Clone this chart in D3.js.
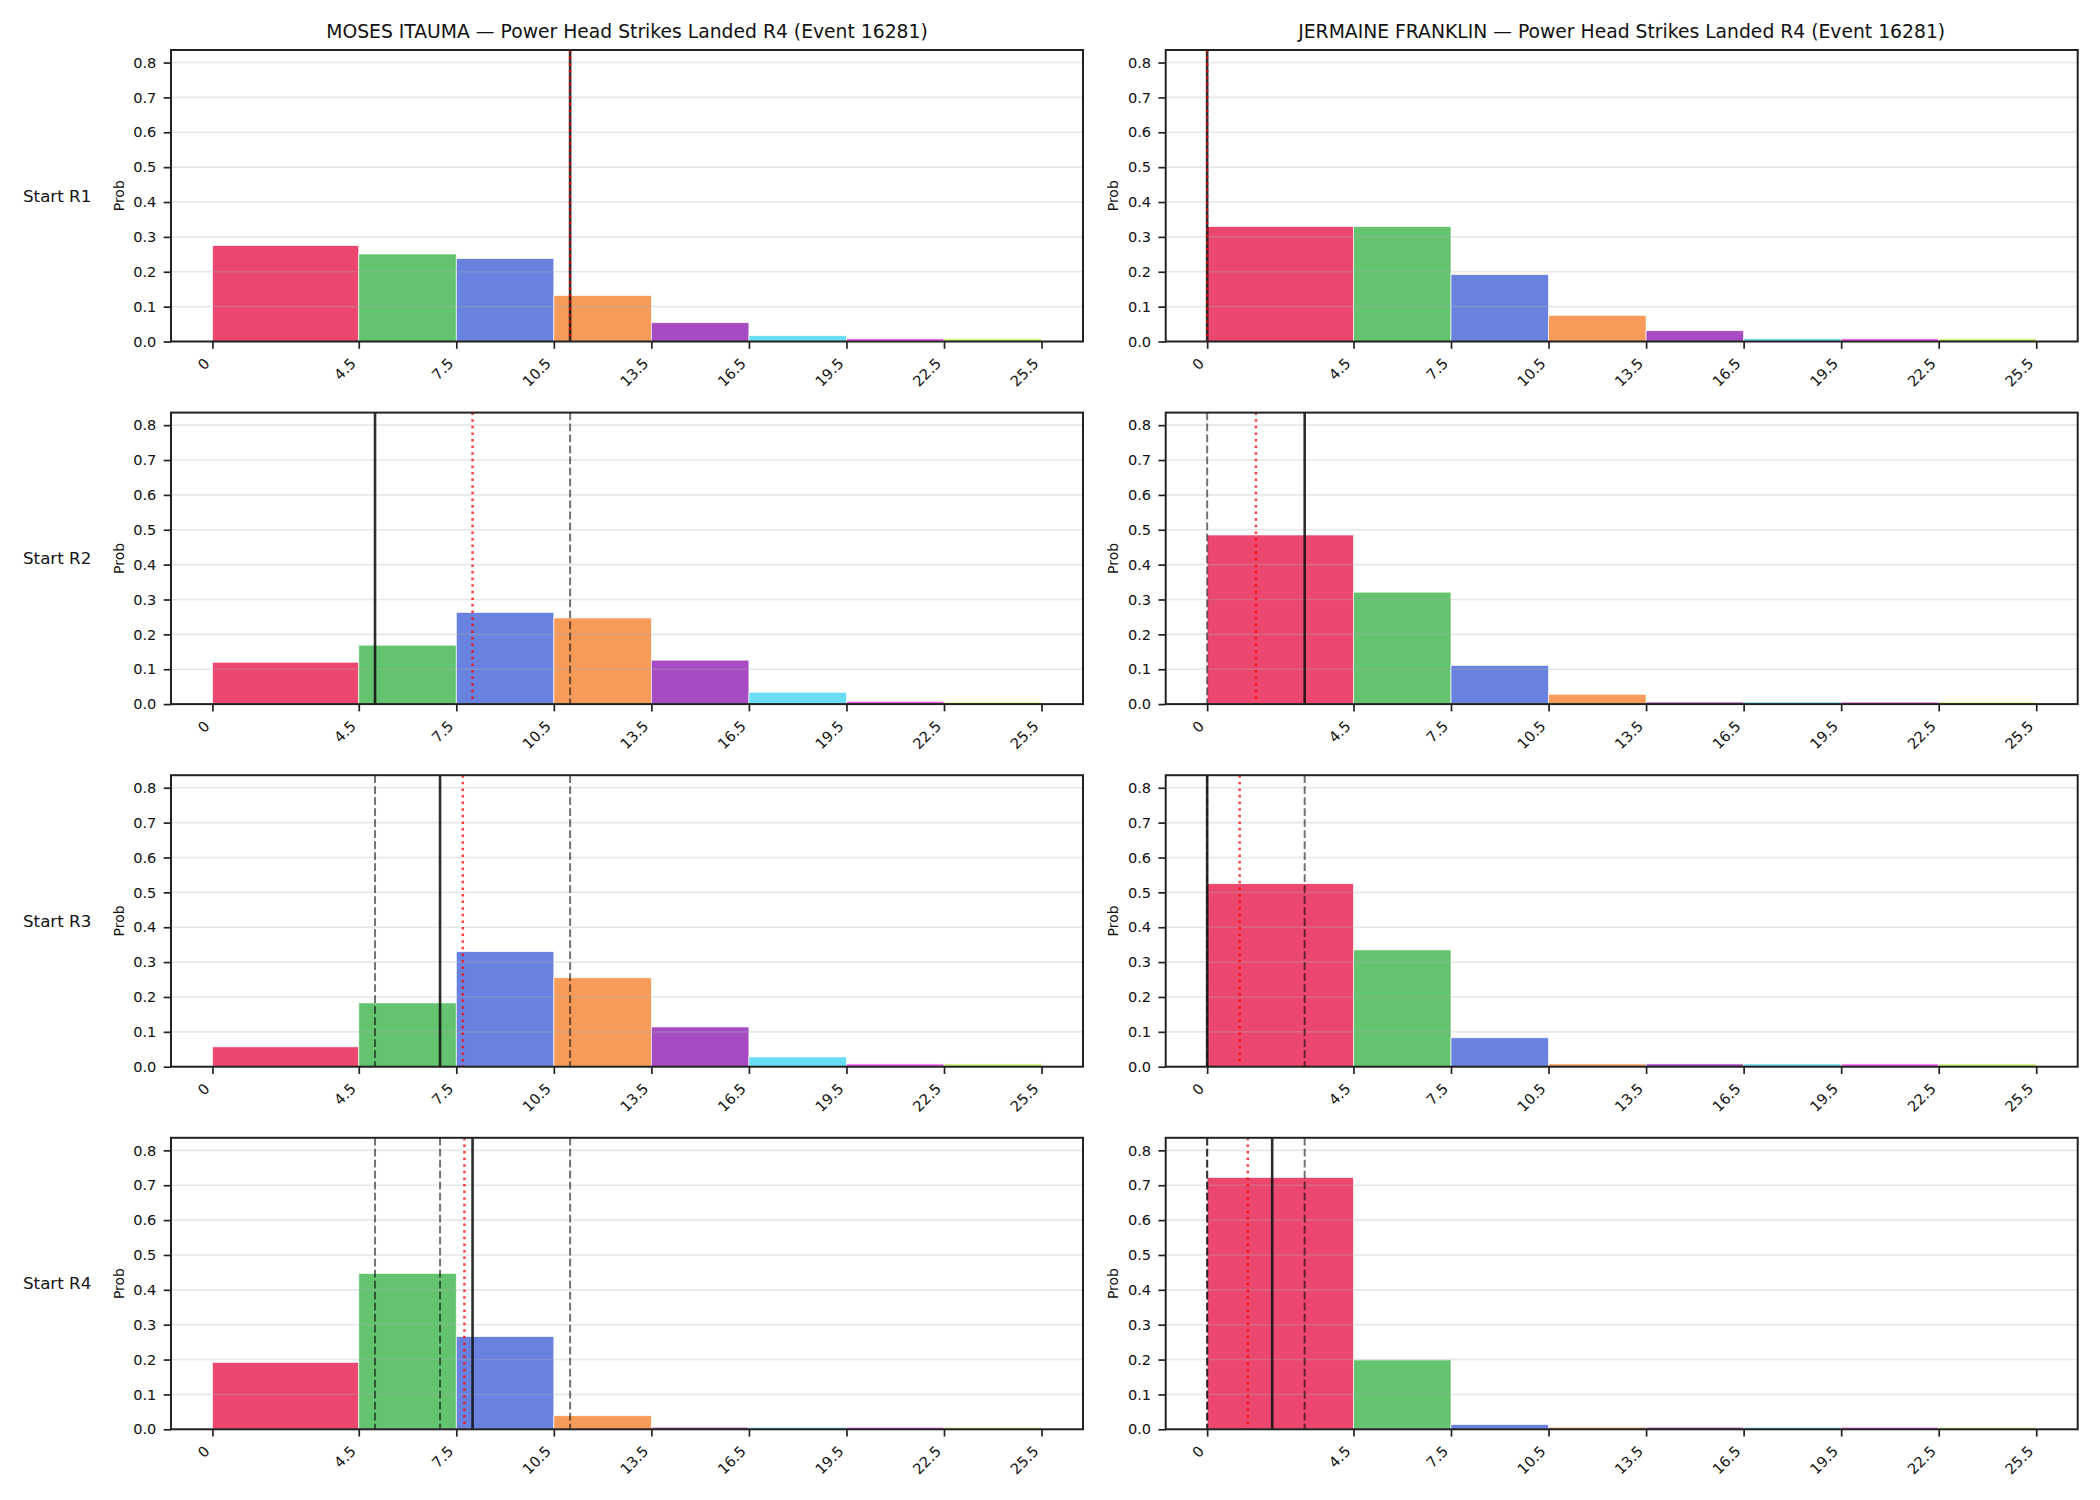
<!DOCTYPE html>
<html>
<head>
<meta charset="utf-8">
<script src="https://cdn.jsdelivr.net/npm/d3@7"></script>
<style>
  body { margin: 0; background: #fff; }
  svg { display: block; font-family: 'DejaVu Sans', sans-serif; }
</style>
</head>
<body>
<script>
// bin edges and their tick labels
const binEdges = [0, 4.5, 7.5, 10.5, 13.5, 16.5, 19.5, 22.5, 25.5]
const tickLabels = ['0', '4.5', '7.5', '10.5', '13.5', '16.5', '19.5', '22.5', '25.5']
const yTicks = [0, 0.1, 0.2, 0.3, 0.4, 0.5, 0.6, 0.7, 0.8]
const barColors = ['#e6194b', '#3cb44b', '#4363d8', '#f58231', '#911eb4', '#42d4f4', '#f032e6', '#bfef45']

const rowLabels = ['Start R1', 'Start R2', 'Start R3', 'Start R4']
const fighterNames = ['MOSES ITAUMA', 'JERMAINE FRANKLIN']
const titleSuffix = ' — Power Head Strikes Landed R4 (Event 16281)'

// probability per bin, one array per starting round
const itaumaR1 = [0.275, 0.251, 0.238, 0.132, 0.054, 0.017, 0.008, 0.008]
const itaumaR2 = [0.120, 0.169, 0.263, 0.247, 0.126, 0.034, 0.008, 0.006]
const itaumaR3 = [0.057, 0.183, 0.330, 0.255, 0.114, 0.028, 0.008, 0.008]
const itaumaR4 = [0.192, 0.447, 0.266, 0.039, 0.006, 0.006, 0.006, 0.006]

const franklinR1 = [0.330, 0.330, 0.192, 0.075, 0.031, 0.008, 0.008, 0.008]
const franklinR2 = [0.485, 0.321, 0.111, 0.028, 0.006, 0.006, 0.006, 0.006]
const franklinR3 = [0.525, 0.335, 0.083, 0.008, 0.008, 0.008, 0.008, 0.008]
const franklinR4 = [0.722, 0.199, 0.014, 0.006, 0.006, 0.006, 0.006, 0.006]

// solid line per row (earlier rows come back as dashed lines)
const itaumaActual = [11, 5, 7, 8]
const franklinActual = [0, 3, 0, 2]
// red dotted line per row
const itaumaMarker = [11, 8, 7.7, 7.75]
const franklinMarker = [0, 1.5, 1, 1.25]

const panels = [
  { name: fighterNames[0], probs: [itaumaR1, itaumaR2, itaumaR3, itaumaR4], actual: itaumaActual, marker: itaumaMarker },
  { name: fighterNames[1], probs: [franklinR1, franklinR2, franklinR3, franklinR4], actual: franklinActual, marker: franklinMarker }
]

const colLeft = [171, 1165.7]
const plotWidth = 912
const rowTop = 50
const rowStep = 362.6
const plotHeight = 291.5
const ink = '#222'

const svg = d3.select('body')
  .append('svg')
  .attr('width', 2100)
  .attr('height', 1500)

const xScale = d3.scaleLinear()
  .domain([-1.275, 26.775])
  .range([0, plotWidth])

const yScale = d3.scaleLinear()
  .domain([0, 0.836])
  .range([plotHeight, 0])

rowLabels.forEach((rowLabel, r) => {
  const top = rowTop + r * rowStep

  svg.append('text')
    .attr('x', 23)
    .attr('y', top + plotHeight / 2)
    .attr('dy', '0.35em')
    .attr('font-size', 16.7)
    .attr('fill', '#111')
    .text(rowLabel)

  panels.forEach((panel, c) => {
    const g = svg.append('g')
      .attr('transform', `translate(${colLeft[c]}, ${top})`)

    const bins = panel.probs[r].map((p, i) => ({
      x0: binEdges[i],
      x1: binEdges[i + 1],
      p: p,
      color: barColors[i]
    }))

    g.append('g')
      .selectAll('rect')
      .data(bins)
      .enter()
      .append('rect')
      .attr('x', d => xScale(d.x0))
      .attr('y', d => yScale(d.p))
      .attr('width', d => xScale(d.x1) - xScale(d.x0))
      .attr('height', d => yScale(0) - yScale(d.p))
      .attr('fill', d => d.color)
      .attr('fill-opacity', 0.8)
      .attr('stroke', '#fff')
      .attr('stroke-opacity', 0.85)
      .attr('stroke-width', 0.8)

    // horizontal grid
    g.append('g')
      .selectAll('line')
      .data(yTicks)
      .enter()
      .append('line')
      .attr('x1', 0)
      .attr('x2', plotWidth)
      .attr('y1', d => yScale(d))
      .attr('y2', d => yScale(d))
      .attr('stroke', 'rgba(176,176,176,0.3)')
      .attr('stroke-width', 1.6)

    // previous rounds, dashed
    g.append('g')
      .selectAll('line')
      .data(panel.actual.slice(0, r))
      .enter()
      .append('line')
      .attr('x1', d => xScale(d))
      .attr('x2', d => xScale(d))
      .attr('y1', 0)
      .attr('y2', plotHeight)
      .attr('stroke', '#000')
      .attr('stroke-opacity', 0.55)
      .attr('stroke-width', 2)
      .attr('stroke-dasharray', '7.7,3.3')

    g.append('line')
      .attr('x1', xScale(panel.actual[r]))
      .attr('x2', xScale(panel.actual[r]))
      .attr('y1', 0)
      .attr('y2', plotHeight)
      .attr('stroke', '#111')
      .attr('stroke-opacity', 0.88)
      .attr('stroke-width', 2.6)

    g.append('line')
      .attr('x1', xScale(panel.marker[r]))
      .attr('x2', xScale(panel.marker[r]))
      .attr('y1', 0)
      .attr('y2', plotHeight)
      .attr('stroke', 'red')
      .attr('stroke-opacity', 0.75)
      .attr('stroke-width', 2.5)
      .attr('stroke-dasharray', '2.5,4.1')

    const bottomAxis = d3.axisBottom(xScale)
      .tickValues(binEdges)
      .tickFormat((d, i) => tickLabels[i])
      .tickSize(7.3)
      .tickPadding(7.3)

    const leftAxis = d3.axisLeft(yScale)
      .tickValues(yTicks)
      .tickFormat(d3.format('.1f'))
      .tickSize(7.3)
      .tickPadding(7.3)

    const xAxisG = g.append('g')
      .attr('transform', `translate(0, ${plotHeight})`)
      .call(bottomAxis)

    xAxisG.selectAll('text')
      .attr('x', 0)
      .attr('y', 0)
      .attr('dy', null)
      .attr('transform', 'translate(-2.5, 23) rotate(-45)')
      .style('text-anchor', 'end')

    g.append('g')
      .call(leftAxis)

    g.selectAll('.domain').remove()
    g.selectAll('.tick line')
      .attr('stroke', ink)
      .attr('stroke-width', 1.7)
    g.selectAll('.tick text')
      .attr('fill', '#111')
      .attr('font-size', 14.6)
      .attr('font-family', 'DejaVu Sans')

    g.append('text')
      .attr('transform', `translate(-47.5, ${plotHeight / 2}) rotate(-90)`)
      .attr('text-anchor', 'middle')
      .attr('font-size', 14)
      .attr('fill', '#111')
      .text('Prob')

    g.append('rect')
      .attr('width', plotWidth)
      .attr('height', plotHeight)
      .attr('fill', 'none')
      .attr('stroke', ink)
      .attr('stroke-width', 2)

    if (r === 0) {
      g.append('text')
        .attr('x', plotWidth / 2)
        .attr('y', -12.5)
        .attr('text-anchor', 'middle')
        .attr('font-size', 18.75)
        .attr('fill', '#111')
        .text(panel.name + titleSuffix)
    }
  })
})
</script>
</body>
</html>
